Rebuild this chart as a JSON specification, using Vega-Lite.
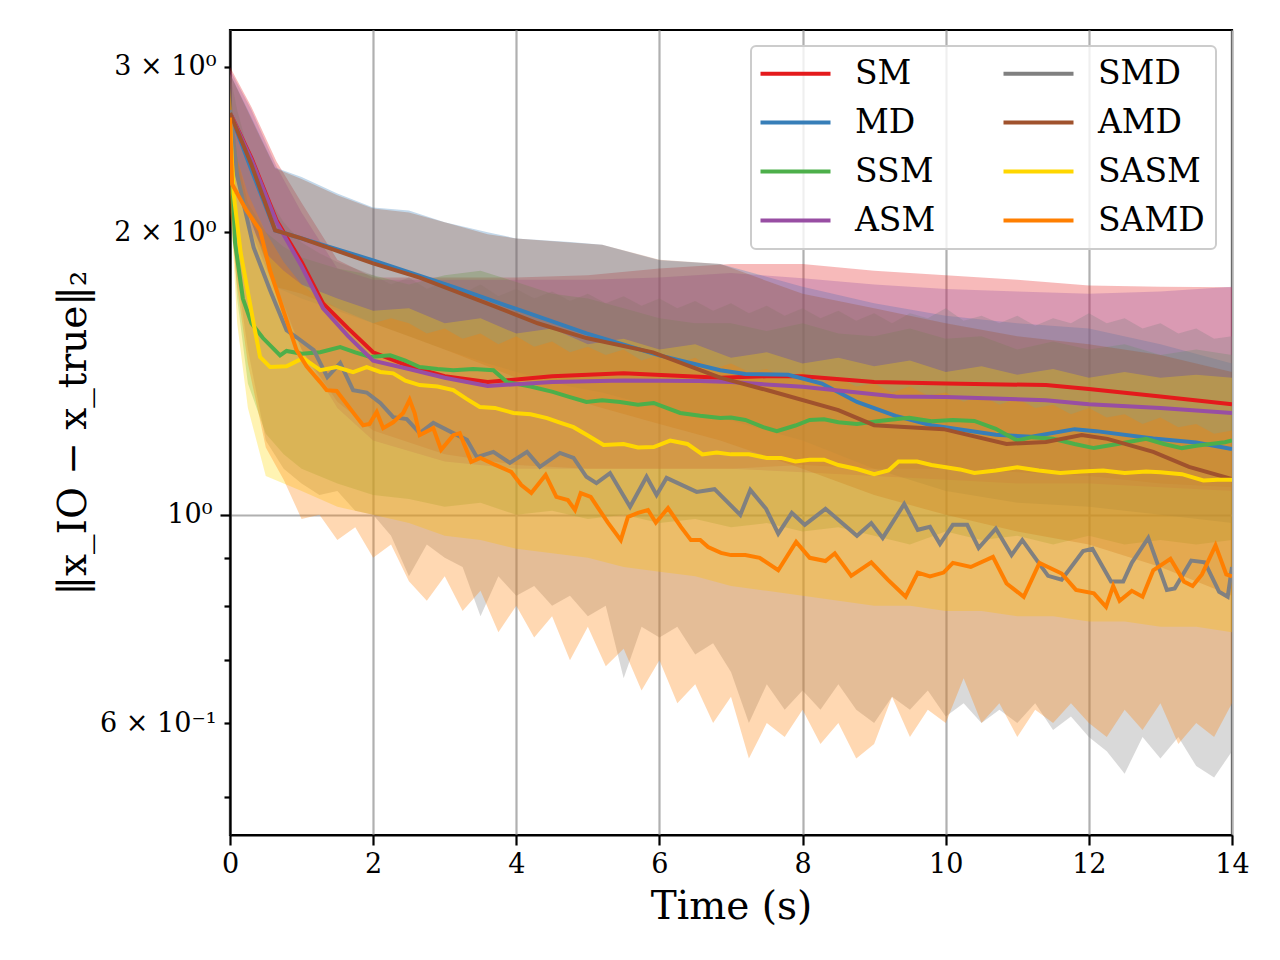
{
  "$schema": "https://vega.github.io/schema/vega-lite/v6.json",
  "autosize": {"type": "none"},
  "padding": {"left": 230, "top": 30, "right": 48, "bottom": 125},
  "width": 1002,
  "height": 805,
  "background": "white",
  "datasets": {
    "bands": [
      {"m":"SM","t":0,"lo":2.4,"hi":3.0},{"m":"SM","t":0.3,"lo":2.05,"hi":2.72},{"m":"SM","t":0.65,"lo":1.75,"hi":2.38},{"m":"SM","t":1,"lo":1.5,"hi":2.15},{"m":"SM","t":1.5,"lo":1.32,"hi":1.87},{"m":"SM","t":2,"lo":1.23,"hi":1.79},{"m":"SM","t":3,"lo":1.16,"hi":1.79},{"m":"SM","t":4,"lo":1.13,"hi":1.79},{"m":"SM","t":5,"lo":1.12,"hi":1.8},{"m":"SM","t":6,"lo":1.12,"hi":1.83},{"m":"SM","t":7,"lo":1.12,"hi":1.85},{"m":"SM","t":8,"lo":1.13,"hi":1.85},{"m":"SM","t":9,"lo":1.12,"hi":1.82},{"m":"SM","t":10,"lo":1.12,"hi":1.8},{"m":"SM","t":11,"lo":1.11,"hi":1.78},{"m":"SM","t":12,"lo":1.1,"hi":1.755},{"m":"SM","t":13,"lo":1.08,"hi":1.75},{"m":"SM","t":14,"lo":1.07,"hi":1.748},

      {"m":"MD","t":0,"lo":2.4,"hi":2.95},{"m":"MD","t":0.3,"lo":2.05,"hi":2.65},{"m":"MD","t":0.63,"lo":1.75,"hi":2.345},{"m":"MD","t":1,"lo":1.7,"hi":2.29},{"m":"MD","t":1.5,"lo":1.65,"hi":2.2},{"m":"MD","t":2,"lo":1.6,"hi":2.125},{"m":"MD","t":2.5,"lo":1.55,"hi":2.11},{"m":"MD","t":3,"lo":1.5,"hi":2.05},{"m":"MD","t":3.6,"lo":1.45,"hi":2.0},{"m":"MD","t":4,"lo":1.42,"hi":1.97},{"m":"MD","t":4.75,"lo":1.37,"hi":1.953},{"m":"MD","t":5.2,"lo":1.35,"hi":1.94},{"m":"MD","t":6,"lo":1.3,"hi":1.867},{"m":"MD","t":6.85,"lo":1.27,"hi":1.85},{"m":"MD","t":8,"lo":1.2,"hi":1.75},{"m":"MD","t":9,"lo":1.12,"hi":1.68},{"m":"MD","t":10,"lo":1.06,"hi":1.63},{"m":"MD","t":11,"lo":1.03,"hi":1.6},{"m":"MD","t":12,"lo":1.02,"hi":1.58},{"m":"MD","t":13,"lo":1.0,"hi":1.52},{"m":"MD","t":14,"lo":0.98,"hi":1.45},

      {"m":"SSM","t":0,"lo":2.3,"hi":2.9},{"m":"SSM","t":0.1,"lo":1.7,"hi":2.4},{"m":"SSM","t":0.25,"lo":1.38,"hi":2.15},{"m":"SSM","t":0.5,"lo":1.22,"hi":2.0},{"m":"SSM","t":0.75,"lo":1.16,"hi":1.93},{"m":"SSM","t":1,"lo":1.12,"hi":1.88},{"m":"SSM","t":1.5,"lo":1.08,"hi":1.83},{"m":"SSM","t":2,"lo":1.05,"hi":1.8},{"m":"SSM","t":2.5,"lo":1.04,"hi":1.76},{"m":"SSM","t":3,"lo":1.02,"hi":1.8},{"m":"SSM","t":3.5,"lo":1.03,"hi":1.82},{"m":"SSM","t":4,"lo":1.0,"hi":1.77},{"m":"SSM","t":4.5,"lo":1.01,"hi":1.72},{"m":"SSM","t":5,"lo":0.99,"hi":1.7},{"m":"SSM","t":5.5,"lo":1.0,"hi":1.66},{"m":"SSM","t":6,"lo":0.98,"hi":1.62},{"m":"SSM","t":6.5,"lo":0.99,"hi":1.6},{"m":"SSM","t":7,"lo":0.97,"hi":1.6},{"m":"SSM","t":7.5,"lo":0.98,"hi":1.57},{"m":"SSM","t":8,"lo":0.96,"hi":1.6},{"m":"SSM","t":8.5,"lo":0.97,"hi":1.56},{"m":"SSM","t":9,"lo":0.95,"hi":1.55},{"m":"SSM","t":9.5,"lo":0.93,"hi":1.58},{"m":"SSM","t":10,"lo":0.96,"hi":1.54},{"m":"SSM","t":10.5,"lo":0.94,"hi":1.55},{"m":"SSM","t":11,"lo":0.95,"hi":1.5},{"m":"SSM","t":11.5,"lo":0.93,"hi":1.53},{"m":"SSM","t":12,"lo":0.95,"hi":1.5},{"m":"SSM","t":12.5,"lo":0.93,"hi":1.52},{"m":"SSM","t":13,"lo":0.94,"hi":1.48},{"m":"SSM","t":13.5,"lo":0.93,"hi":1.5},{"m":"SSM","t":14,"lo":0.94,"hi":1.48},

      {"m":"ASM","t":0,"lo":2.4,"hi":2.98},{"m":"ASM","t":0.3,"lo":2.0,"hi":2.7},{"m":"ASM","t":0.65,"lo":1.72,"hi":2.35},{"m":"ASM","t":1,"lo":1.5,"hi":2.1},{"m":"ASM","t":1.5,"lo":1.3,"hi":1.83},{"m":"ASM","t":2,"lo":1.2,"hi":1.78},{"m":"ASM","t":3,"lo":1.14,"hi":1.78},{"m":"ASM","t":4,"lo":1.12,"hi":1.78},{"m":"ASM","t":5,"lo":1.12,"hi":1.78},{"m":"ASM","t":6,"lo":1.12,"hi":1.79},{"m":"ASM","t":7,"lo":1.12,"hi":1.81},{"m":"ASM","t":8,"lo":1.11,"hi":1.787},{"m":"ASM","t":9,"lo":1.1,"hi":1.76},{"m":"ASM","t":10,"lo":1.09,"hi":1.74},{"m":"ASM","t":11,"lo":1.08,"hi":1.73},{"m":"ASM","t":12,"lo":1.08,"hi":1.72},{"m":"ASM","t":13,"lo":1.07,"hi":1.73},{"m":"ASM","t":14,"lo":1.06,"hi":1.75},

      {"m":"SMD","t":0,"lo":2.2,"hi":2.95},{"m":"SMD","t":0.1,"lo":1.8,"hi":2.7},{"m":"SMD","t":0.25,"lo":1.5,"hi":2.45},{"m":"SMD","t":0.5,"lo":1.2,"hi":2.2},{"m":"SMD","t":0.75,"lo":1.12,"hi":2.05},{"m":"SMD","t":1,"lo":1.08,"hi":1.95},{"m":"SMD","t":1.25,"lo":1.05,"hi":1.9},{"m":"SMD","t":1.5,"lo":1.06,"hi":1.86},{"m":"SMD","t":1.75,"lo":1.01,"hi":1.83},{"m":"SMD","t":2,"lo":1.0,"hi":1.8},{"m":"SMD","t":2.25,"lo":0.95,"hi":1.76},{"m":"SMD","t":2.5,"lo":0.86,"hi":1.79},{"m":"SMD","t":2.75,"lo":0.93,"hi":1.74},{"m":"SMD","t":3,"lo":0.9,"hi":1.77},{"m":"SMD","t":3.25,"lo":0.88,"hi":1.72},{"m":"SMD","t":3.5,"lo":0.78,"hi":1.76},{"m":"SMD","t":3.75,"lo":0.86,"hi":1.71},{"m":"SMD","t":4,"lo":0.82,"hi":1.74},{"m":"SMD","t":4.25,"lo":0.84,"hi":1.7},{"m":"SMD","t":4.5,"lo":0.8,"hi":1.73},{"m":"SMD","t":4.75,"lo":0.82,"hi":1.69},{"m":"SMD","t":5,"lo":0.78,"hi":1.72},{"m":"SMD","t":5.25,"lo":0.8,"hi":1.68},{"m":"SMD","t":5.5,"lo":0.67,"hi":1.71},{"m":"SMD","t":5.75,"lo":0.76,"hi":1.67},{"m":"SMD","t":6,"lo":0.74,"hi":1.7},{"m":"SMD","t":6.25,"lo":0.76,"hi":1.66},{"m":"SMD","t":6.5,"lo":0.71,"hi":1.69},{"m":"SMD","t":6.75,"lo":0.73,"hi":1.65},{"m":"SMD","t":7,"lo":0.68,"hi":1.68},{"m":"SMD","t":7.25,"lo":0.6,"hi":1.64},{"m":"SMD","t":7.5,"lo":0.66,"hi":1.67},{"m":"SMD","t":7.75,"lo":0.62,"hi":1.63},{"m":"SMD","t":8,"lo":0.65,"hi":1.66},{"m":"SMD","t":8.25,"lo":0.62,"hi":1.62},{"m":"SMD","t":8.5,"lo":0.66,"hi":1.65},{"m":"SMD","t":8.75,"lo":0.62,"hi":1.61},{"m":"SMD","t":9,"lo":0.6,"hi":1.64},{"m":"SMD","t":9.25,"lo":0.64,"hi":1.6},{"m":"SMD","t":9.5,"lo":0.62,"hi":1.64},{"m":"SMD","t":9.75,"lo":0.65,"hi":1.62},{"m":"SMD","t":10,"lo":0.61,"hi":1.66},{"m":"SMD","t":10.25,"lo":0.63,"hi":1.61},{"m":"SMD","t":10.5,"lo":0.6,"hi":1.63},{"m":"SMD","t":10.75,"lo":0.62,"hi":1.6},{"m":"SMD","t":11,"lo":0.6,"hi":1.63},{"m":"SMD","t":11.25,"lo":0.63,"hi":1.59},{"m":"SMD","t":11.5,"lo":0.59,"hi":1.62},{"m":"SMD","t":11.75,"lo":0.61,"hi":1.6},{"m":"SMD","t":12,"lo":0.58,"hi":1.64},{"m":"SMD","t":12.25,"lo":0.56,"hi":1.6},{"m":"SMD","t":12.5,"lo":0.53,"hi":1.62},{"m":"SMD","t":12.75,"lo":0.58,"hi":1.58},{"m":"SMD","t":13,"lo":0.55,"hi":1.6},{"m":"SMD","t":13.25,"lo":0.58,"hi":1.56},{"m":"SMD","t":13.5,"lo":0.54,"hi":1.58},{"m":"SMD","t":13.75,"lo":0.525,"hi":1.54},{"m":"SMD","t":14,"lo":0.56,"hi":1.55},

      {"m":"AMD","t":0,"lo":2.4,"hi":2.95},{"m":"AMD","t":0.3,"lo":2.05,"hi":2.64},{"m":"AMD","t":0.63,"lo":1.75,"hi":2.34},{"m":"AMD","t":1,"lo":1.72,"hi":2.28},{"m":"AMD","t":1.5,"lo":1.66,"hi":2.19},{"m":"AMD","t":2,"lo":1.6,"hi":2.12},{"m":"AMD","t":2.5,"lo":1.55,"hi":2.1},{"m":"AMD","t":3,"lo":1.5,"hi":2.05},{"m":"AMD","t":3.6,"lo":1.44,"hi":1.99},{"m":"AMD","t":4,"lo":1.4,"hi":1.97},{"m":"AMD","t":4.75,"lo":1.33,"hi":1.95},{"m":"AMD","t":5.2,"lo":1.3,"hi":1.94},{"m":"AMD","t":6,"lo":1.25,"hi":1.87},{"m":"AMD","t":6.85,"lo":1.2,"hi":1.85},{"m":"AMD","t":8,"lo":1.12,"hi":1.72},{"m":"AMD","t":9,"lo":1.05,"hi":1.66},{"m":"AMD","t":10,"lo":1.0,"hi":1.6},{"m":"AMD","t":11,"lo":0.96,"hi":1.55},{"m":"AMD","t":12,"lo":0.93,"hi":1.52},{"m":"AMD","t":13,"lo":0.88,"hi":1.48},{"m":"AMD","t":14,"lo":0.82,"hi":1.42},

      {"m":"SASM","t":0,"lo":2.2,"hi":2.85},{"m":"SASM","t":0.1,"lo":1.6,"hi":2.3},{"m":"SASM","t":0.25,"lo":1.3,"hi":2.05},{"m":"SASM","t":0.5,"lo":1.1,"hi":1.9},{"m":"SASM","t":0.75,"lo":1.08,"hi":1.82},{"m":"SASM","t":1,"lo":1.06,"hi":1.76},{"m":"SASM","t":1.5,"lo":1.02,"hi":1.7},{"m":"SASM","t":2,"lo":1.0,"hi":1.65},{"m":"SASM","t":2.5,"lo":0.98,"hi":1.66},{"m":"SASM","t":3,"lo":0.95,"hi":1.6},{"m":"SASM","t":3.5,"lo":0.94,"hi":1.62},{"m":"SASM","t":4,"lo":0.92,"hi":1.56},{"m":"SASM","t":4.5,"lo":0.91,"hi":1.58},{"m":"SASM","t":5,"lo":0.9,"hi":1.52},{"m":"SASM","t":5.5,"lo":0.88,"hi":1.54},{"m":"SASM","t":6,"lo":0.87,"hi":1.5},{"m":"SASM","t":6.5,"lo":0.86,"hi":1.52},{"m":"SASM","t":7,"lo":0.84,"hi":1.47},{"m":"SASM","t":7.5,"lo":0.83,"hi":1.49},{"m":"SASM","t":8,"lo":0.82,"hi":1.45},{"m":"SASM","t":8.5,"lo":0.81,"hi":1.47},{"m":"SASM","t":9,"lo":0.8,"hi":1.44},{"m":"SASM","t":9.5,"lo":0.8,"hi":1.46},{"m":"SASM","t":10,"lo":0.79,"hi":1.42},{"m":"SASM","t":10.5,"lo":0.79,"hi":1.44},{"m":"SASM","t":11,"lo":0.78,"hi":1.41},{"m":"SASM","t":11.5,"lo":0.78,"hi":1.43},{"m":"SASM","t":12,"lo":0.77,"hi":1.4},{"m":"SASM","t":12.5,"lo":0.77,"hi":1.42},{"m":"SASM","t":13,"lo":0.76,"hi":1.4},{"m":"SASM","t":13.5,"lo":0.76,"hi":1.41},{"m":"SASM","t":14,"lo":0.75,"hi":1.4},

      {"m":"SAMD","t":0,"lo":2.1,"hi":2.8},{"m":"SAMD","t":0.1,"lo":1.75,"hi":2.4},{"m":"SAMD","t":0.25,"lo":1.45,"hi":2.2},{"m":"SAMD","t":0.5,"lo":1.18,"hi":2.0},{"m":"SAMD","t":0.75,"lo":1.09,"hi":1.86},{"m":"SAMD","t":1,"lo":0.99,"hi":1.76},{"m":"SAMD","t":1.25,"lo":1.0,"hi":1.7},{"m":"SAMD","t":1.5,"lo":0.94,"hi":1.66},{"m":"SAMD","t":1.75,"lo":0.97,"hi":1.63},{"m":"SAMD","t":2,"lo":0.9,"hi":1.6},{"m":"SAMD","t":2.25,"lo":0.93,"hi":1.62},{"m":"SAMD","t":2.5,"lo":0.85,"hi":1.6},{"m":"SAMD","t":2.75,"lo":0.81,"hi":1.56},{"m":"SAMD","t":3,"lo":0.86,"hi":1.58},{"m":"SAMD","t":3.25,"lo":0.79,"hi":1.54},{"m":"SAMD","t":3.5,"lo":0.83,"hi":1.56},{"m":"SAMD","t":3.75,"lo":0.75,"hi":1.52},{"m":"SAMD","t":4,"lo":0.8,"hi":1.55},{"m":"SAMD","t":4.25,"lo":0.74,"hi":1.51},{"m":"SAMD","t":4.5,"lo":0.78,"hi":1.53},{"m":"SAMD","t":4.75,"lo":0.7,"hi":1.49},{"m":"SAMD","t":5,"lo":0.76,"hi":1.51},{"m":"SAMD","t":5.25,"lo":0.69,"hi":1.48},{"m":"SAMD","t":5.5,"lo":0.72,"hi":1.5},{"m":"SAMD","t":5.75,"lo":0.65,"hi":1.46},{"m":"SAMD","t":6,"lo":0.7,"hi":1.48},{"m":"SAMD","t":6.25,"lo":0.63,"hi":1.45},{"m":"SAMD","t":6.5,"lo":0.66,"hi":1.47},{"m":"SAMD","t":6.75,"lo":0.6,"hi":1.43},{"m":"SAMD","t":7,"lo":0.64,"hi":1.45},{"m":"SAMD","t":7.25,"lo":0.55,"hi":1.42},{"m":"SAMD","t":7.5,"lo":0.6,"hi":1.43},{"m":"SAMD","t":7.75,"lo":0.58,"hi":1.4},{"m":"SAMD","t":8,"lo":0.62,"hi":1.42},{"m":"SAMD","t":8.25,"lo":0.57,"hi":1.38},{"m":"SAMD","t":8.5,"lo":0.6,"hi":1.4},{"m":"SAMD","t":8.75,"lo":0.55,"hi":1.37},{"m":"SAMD","t":9,"lo":0.57,"hi":1.38},{"m":"SAMD","t":9.25,"lo":0.64,"hi":1.35},{"m":"SAMD","t":9.5,"lo":0.58,"hi":1.37},{"m":"SAMD","t":9.75,"lo":0.62,"hi":1.34},{"m":"SAMD","t":10,"lo":0.6,"hi":1.35},{"m":"SAMD","t":10.25,"lo":0.67,"hi":1.32},{"m":"SAMD","t":10.5,"lo":0.6,"hi":1.34},{"m":"SAMD","t":10.75,"lo":0.63,"hi":1.31},{"m":"SAMD","t":11,"lo":0.58,"hi":1.33},{"m":"SAMD","t":11.25,"lo":0.62,"hi":1.3},{"m":"SAMD","t":11.5,"lo":0.6,"hi":1.31},{"m":"SAMD","t":11.75,"lo":0.63,"hi":1.28},{"m":"SAMD","t":12,"lo":0.6,"hi":1.3},{"m":"SAMD","t":12.25,"lo":0.58,"hi":1.27},{"m":"SAMD","t":12.5,"lo":0.62,"hi":1.28},{"m":"SAMD","t":12.75,"lo":0.59,"hi":1.25},{"m":"SAMD","t":13,"lo":0.63,"hi":1.27},{"m":"SAMD","t":13.25,"lo":0.57,"hi":1.24},{"m":"SAMD","t":13.5,"lo":0.6,"hi":1.25},{"m":"SAMD","t":13.75,"lo":0.58,"hi":1.22},{"m":"SAMD","t":14,"lo":0.63,"hi":1.23}
    ],
    "lines": [
      {"s":"SM","t":0,"v":2.68},{"s":"SM","t":0.3,"v":2.4},{"s":"SM","t":0.65,"v":2.06},{"s":"SM","t":1,"v":1.86},{"s":"SM","t":1.3,"v":1.68},{"s":"SM","t":1.65,"v":1.58},{"s":"SM","t":2,"v":1.49},{"s":"SM","t":2.5,"v":1.44},{"s":"SM","t":3,"v":1.405},{"s":"SM","t":3.6,"v":1.385},{"s":"SM","t":4.5,"v":1.405},{"s":"SM","t":5.5,"v":1.415},{"s":"SM","t":6.85,"v":1.4},{"s":"SM","t":7.5,"v":1.405},{"s":"SM","t":8,"v":1.405},{"s":"SM","t":9,"v":1.385},{"s":"SM","t":10,"v":1.38},{"s":"SM","t":11.4,"v":1.375},{"s":"SM","t":12,"v":1.362},{"s":"SM","t":13,"v":1.337},{"s":"SM","t":14,"v":1.312},

      {"s":"MD","t":0,"v":2.68},{"s":"MD","t":0.3,"v":2.33},{"s":"MD","t":0.63,"v":2.01},{"s":"MD","t":1,"v":1.97},{"s":"MD","t":2,"v":1.867},{"s":"MD","t":3.12,"v":1.749},{"s":"MD","t":4.05,"v":1.652},{"s":"MD","t":4.98,"v":1.561},{"s":"MD","t":6,"v":1.479},{"s":"MD","t":6.85,"v":1.426},{"s":"MD","t":7.2,"v":1.413},{"s":"MD","t":7.8,"v":1.41},{"s":"MD","t":8.27,"v":1.38},{"s":"MD","t":8.76,"v":1.319},{"s":"MD","t":9.3,"v":1.275},{"s":"MD","t":9.8,"v":1.246},{"s":"MD","t":10.7,"v":1.217},{"s":"MD","t":11.2,"v":1.211},{"s":"MD","t":11.8,"v":1.234},{"s":"MD","t":12.1,"v":1.228},{"s":"MD","t":12.9,"v":1.206},{"s":"MD","t":13.5,"v":1.194},{"s":"MD","t":14,"v":1.175},

      {"s":"SSM","t":0,"v":2.65},{"s":"SSM","t":0.07,"v":1.95},{"s":"SSM","t":0.18,"v":1.7},{"s":"SSM","t":0.3,"v":1.6},{"s":"SSM","t":0.46,"v":1.543},{"s":"SSM","t":0.7,"v":1.479},{"s":"SSM","t":0.79,"v":1.495},{"s":"SSM","t":1,"v":1.485},{"s":"SSM","t":1.26,"v":1.49},{"s":"SSM","t":1.54,"v":1.509},{"s":"SSM","t":1.75,"v":1.49},{"s":"SSM","t":1.96,"v":1.473},{"s":"SSM","t":2.24,"v":1.479},{"s":"SSM","t":2.45,"v":1.46},{"s":"SSM","t":2.65,"v":1.437},{"s":"SSM","t":2.9,"v":1.43},{"s":"SSM","t":3.12,"v":1.426},{"s":"SSM","t":3.4,"v":1.43},{"s":"SSM","t":3.68,"v":1.426},{"s":"SSM","t":3.87,"v":1.385},{"s":"SSM","t":4.2,"v":1.37},{"s":"SSM","t":4.51,"v":1.352},{"s":"SSM","t":4.75,"v":1.335},{"s":"SSM","t":4.98,"v":1.319},{"s":"SSM","t":5.2,"v":1.325},{"s":"SSM","t":5.45,"v":1.319},{"s":"SSM","t":5.7,"v":1.31},{"s":"SSM","t":5.92,"v":1.316},{"s":"SSM","t":6.1,"v":1.3},{"s":"SSM","t":6.29,"v":1.284},{"s":"SSM","t":6.57,"v":1.275},{"s":"SSM","t":6.85,"v":1.268},{"s":"SSM","t":7,"v":1.27},{"s":"SSM","t":7.2,"v":1.262},{"s":"SSM","t":7.45,"v":1.24},{"s":"SSM","t":7.64,"v":1.228},{"s":"SSM","t":7.9,"v":1.245},{"s":"SSM","t":8.1,"v":1.262},{"s":"SSM","t":8.3,"v":1.264},{"s":"SSM","t":8.5,"v":1.255},{"s":"SSM","t":8.76,"v":1.25},{"s":"SSM","t":9.1,"v":1.26},{"s":"SSM","t":9.49,"v":1.269},{"s":"SSM","t":9.8,"v":1.258},{"s":"SSM","t":10.1,"v":1.262},{"s":"SSM","t":10.4,"v":1.259},{"s":"SSM","t":10.7,"v":1.235},{"s":"SSM","t":11,"v":1.2},{"s":"SSM","t":11.2,"v":1.21},{"s":"SSM","t":11.5,"v":1.205},{"s":"SSM","t":11.8,"v":1.19},{"s":"SSM","t":12.07,"v":1.178},{"s":"SSM","t":12.4,"v":1.19},{"s":"SSM","t":12.8,"v":1.205},{"s":"SSM","t":13.05,"v":1.19},{"s":"SSM","t":13.3,"v":1.178},{"s":"SSM","t":13.5,"v":1.185},{"s":"SSM","t":13.7,"v":1.19},{"s":"SSM","t":13.9,"v":1.195},{"s":"SSM","t":14,"v":1.2},

      {"s":"ASM","t":0,"v":2.68},{"s":"ASM","t":0.3,"v":2.39},{"s":"ASM","t":0.65,"v":2.05},{"s":"ASM","t":1,"v":1.84},{"s":"ASM","t":1.3,"v":1.66},{"s":"ASM","t":1.65,"v":1.55},{"s":"ASM","t":2,"v":1.46},{"s":"ASM","t":2.5,"v":1.43},{"s":"ASM","t":3,"v":1.4},{"s":"ASM","t":3.6,"v":1.372},{"s":"ASM","t":4.5,"v":1.385},{"s":"ASM","t":5.5,"v":1.39},{"s":"ASM","t":6.57,"v":1.389},{"s":"ASM","t":7,"v":1.385},{"s":"ASM","t":8,"v":1.369},{"s":"ASM","t":9.3,"v":1.337},{"s":"ASM","t":10,"v":1.335},{"s":"ASM","t":11.4,"v":1.325},{"s":"ASM","t":12,"v":1.312},{"s":"ASM","t":13,"v":1.3},{"s":"ASM","t":14,"v":1.284},

      {"s":"SMD","t":0,"v":2.7},{"s":"SMD","t":0.1,"v":2.3},{"s":"SMD","t":0.33,"v":1.927},{"s":"SMD","t":0.56,"v":1.735},{"s":"SMD","t":0.79,"v":1.573},{"s":"SMD","t":0.93,"v":1.546},{"s":"SMD","t":1.17,"v":1.498},{"s":"SMD","t":1.36,"v":1.402},{"s":"SMD","t":1.54,"v":1.451},{"s":"SMD","t":1.72,"v":1.358},{"s":"SMD","t":1.91,"v":1.35},{"s":"SMD","t":2.1,"v":1.316},{"s":"SMD","t":2.28,"v":1.271},{"s":"SMD","t":2.47,"v":1.265},{"s":"SMD","t":2.65,"v":1.222},{"s":"SMD","t":2.84,"v":1.253},{"s":"SMD","t":3.12,"v":1.222},{"s":"SMD","t":3.31,"v":1.202},{"s":"SMD","t":3.45,"v":1.152},{"s":"SMD","t":3.68,"v":1.167},{"s":"SMD","t":3.91,"v":1.136},{"s":"SMD","t":4.15,"v":1.167},{"s":"SMD","t":4.33,"v":1.125},{"s":"SMD","t":4.61,"v":1.164},{"s":"SMD","t":4.8,"v":1.15},{"s":"SMD","t":4.98,"v":1.098},{"s":"SMD","t":5.12,"v":1.081},{"s":"SMD","t":5.31,"v":1.108},{"s":"SMD","t":5.59,"v":1.02},{"s":"SMD","t":5.82,"v":1.098},{"s":"SMD","t":5.96,"v":1.05},{"s":"SMD","t":6.1,"v":1.095},{"s":"SMD","t":6.52,"v":1.058},{"s":"SMD","t":6.77,"v":1.065},{"s":"SMD","t":7.13,"v":1.0},{"s":"SMD","t":7.27,"v":1.063},{"s":"SMD","t":7.49,"v":1.015},{"s":"SMD","t":7.66,"v":0.955},{"s":"SMD","t":7.85,"v":1.005},{"s":"SMD","t":8.03,"v":0.976},{"s":"SMD","t":8.32,"v":1.015},{"s":"SMD","t":8.76,"v":0.95},{"s":"SMD","t":8.96,"v":0.98},{"s":"SMD","t":9.12,"v":0.945},{"s":"SMD","t":9.42,"v":1.027},{"s":"SMD","t":9.61,"v":0.964},{"s":"SMD","t":9.78,"v":0.971},{"s":"SMD","t":9.92,"v":0.931},{"s":"SMD","t":10.1,"v":0.976},{"s":"SMD","t":10.3,"v":0.976},{"s":"SMD","t":10.46,"v":0.922},{"s":"SMD","t":10.7,"v":0.967},{"s":"SMD","t":10.92,"v":0.906},{"s":"SMD","t":11.07,"v":0.94},{"s":"SMD","t":11.43,"v":0.861},{"s":"SMD","t":11.62,"v":0.853},{"s":"SMD","t":11.92,"v":0.915},{"s":"SMD","t":12.05,"v":0.92},{"s":"SMD","t":12.31,"v":0.849},{"s":"SMD","t":12.48,"v":0.849},{"s":"SMD","t":12.6,"v":0.889},{"s":"SMD","t":12.83,"v":0.945},{"s":"SMD","t":13.09,"v":0.832},{"s":"SMD","t":13.2,"v":0.835},{"s":"SMD","t":13.43,"v":0.894},{"s":"SMD","t":13.62,"v":0.89},{"s":"SMD","t":13.82,"v":0.828},{"s":"SMD","t":13.94,"v":0.818},{"s":"SMD","t":14,"v":0.88},

      {"s":"AMD","t":0,"v":2.68},{"s":"AMD","t":0.3,"v":2.36},{"s":"AMD","t":0.63,"v":2.01},{"s":"AMD","t":1,"v":1.97},{"s":"AMD","t":2,"v":1.853},{"s":"AMD","t":2.65,"v":1.79},{"s":"AMD","t":3.59,"v":1.68},{"s":"AMD","t":4.3,"v":1.6},{"s":"AMD","t":4.98,"v":1.543},{"s":"AMD","t":5.91,"v":1.49},{"s":"AMD","t":6.57,"v":1.426},{"s":"AMD","t":6.85,"v":1.4},{"s":"AMD","t":7.55,"v":1.355},{"s":"AMD","t":8.5,"v":1.293},{"s":"AMD","t":9,"v":1.246},{"s":"AMD","t":9.97,"v":1.234},{"s":"AMD","t":10.85,"v":1.19},{"s":"AMD","t":11.4,"v":1.196},{"s":"AMD","t":11.9,"v":1.216},{"s":"AMD","t":12.26,"v":1.205},{"s":"AMD","t":12.9,"v":1.167},{"s":"AMD","t":13.4,"v":1.125},{"s":"AMD","t":14,"v":1.092},

      {"s":"SASM","t":0,"v":2.62},{"s":"SASM","t":0.05,"v":2.2},{"s":"SASM","t":0.15,"v":1.9},{"s":"SASM","t":0.33,"v":1.6},{"s":"SASM","t":0.42,"v":1.473},{"s":"SASM","t":0.56,"v":1.437},{"s":"SASM","t":0.79,"v":1.44},{"s":"SASM","t":1.02,"v":1.469},{"s":"SASM","t":1.26,"v":1.426},{"s":"SASM","t":1.49,"v":1.437},{"s":"SASM","t":1.72,"v":1.419},{"s":"SASM","t":1.91,"v":1.437},{"s":"SASM","t":2.1,"v":1.42},{"s":"SASM","t":2.28,"v":1.415},{"s":"SASM","t":2.45,"v":1.39},{"s":"SASM","t":2.65,"v":1.375},{"s":"SASM","t":2.9,"v":1.37},{"s":"SASM","t":3.12,"v":1.358},{"s":"SASM","t":3.3,"v":1.33},{"s":"SASM","t":3.49,"v":1.303},{"s":"SASM","t":3.7,"v":1.3},{"s":"SASM","t":3.96,"v":1.284},{"s":"SASM","t":4.2,"v":1.28},{"s":"SASM","t":4.43,"v":1.268},{"s":"SASM","t":4.6,"v":1.255},{"s":"SASM","t":4.8,"v":1.24},{"s":"SASM","t":5,"v":1.215},{"s":"SASM","t":5.22,"v":1.187},{"s":"SASM","t":5.5,"v":1.19},{"s":"SASM","t":5.7,"v":1.18},{"s":"SASM","t":5.92,"v":1.181},{"s":"SASM","t":6.15,"v":1.2},{"s":"SASM","t":6.39,"v":1.19},{"s":"SASM","t":6.6,"v":1.16},{"s":"SASM","t":6.8,"v":1.165},{"s":"SASM","t":7,"v":1.16},{"s":"SASM","t":7.25,"v":1.16},{"s":"SASM","t":7.5,"v":1.15},{"s":"SASM","t":7.7,"v":1.15},{"s":"SASM","t":7.9,"v":1.14},{"s":"SASM","t":8.1,"v":1.145},{"s":"SASM","t":8.3,"v":1.145},{"s":"SASM","t":8.5,"v":1.13},{"s":"SASM","t":8.76,"v":1.119},{"s":"SASM","t":9,"v":1.105},{"s":"SASM","t":9.2,"v":1.115},{"s":"SASM","t":9.34,"v":1.14},{"s":"SASM","t":9.6,"v":1.14},{"s":"SASM","t":9.8,"v":1.13},{"s":"SASM","t":10,"v":1.124},{"s":"SASM","t":10.2,"v":1.118},{"s":"SASM","t":10.4,"v":1.108},{"s":"SASM","t":10.7,"v":1.115},{"s":"SASM","t":11,"v":1.124},{"s":"SASM","t":11.3,"v":1.115},{"s":"SASM","t":11.6,"v":1.108},{"s":"SASM","t":11.9,"v":1.112},{"s":"SASM","t":12.2,"v":1.115},{"s":"SASM","t":12.5,"v":1.108},{"s":"SASM","t":12.8,"v":1.112},{"s":"SASM","t":13,"v":1.11},{"s":"SASM","t":13.3,"v":1.105},{"s":"SASM","t":13.6,"v":1.088},{"s":"SASM","t":13.8,"v":1.09},{"s":"SASM","t":14,"v":1.09},

      {"s":"SAMD","t":0,"v":2.65},{"s":"SAMD","t":0.03,"v":2.25},{"s":"SAMD","t":0.23,"v":2.11},{"s":"SAMD","t":0.42,"v":2.01},{"s":"SAMD","t":0.56,"v":1.82},{"s":"SAMD","t":0.79,"v":1.612},{"s":"SAMD","t":0.93,"v":1.498},{"s":"SAMD","t":1.07,"v":1.44},{"s":"SAMD","t":1.26,"v":1.385},{"s":"SAMD","t":1.35,"v":1.358},{"s":"SAMD","t":1.49,"v":1.355},{"s":"SAMD","t":1.77,"v":1.271},{"s":"SAMD","t":1.86,"v":1.246},{"s":"SAMD","t":1.95,"v":1.25},{"s":"SAMD","t":2.05,"v":1.287},{"s":"SAMD","t":2.14,"v":1.237},{"s":"SAMD","t":2.28,"v":1.255},{"s":"SAMD","t":2.42,"v":1.284},{"s":"SAMD","t":2.51,"v":1.326},{"s":"SAMD","t":2.58,"v":1.284},{"s":"SAMD","t":2.65,"v":1.216},{"s":"SAMD","t":2.84,"v":1.237},{"s":"SAMD","t":2.95,"v":1.173},{"s":"SAMD","t":3.12,"v":1.216},{"s":"SAMD","t":3.21,"v":1.222},{"s":"SAMD","t":3.37,"v":1.139},{"s":"SAMD","t":3.5,"v":1.15},{"s":"SAMD","t":3.7,"v":1.131},{"s":"SAMD","t":3.93,"v":1.111},{"s":"SAMD","t":4.07,"v":1.076},{"s":"SAMD","t":4.21,"v":1.055},{"s":"SAMD","t":4.41,"v":1.103},{"s":"SAMD","t":4.56,"v":1.045},{"s":"SAMD","t":4.72,"v":1.037},{"s":"SAMD","t":4.82,"v":1.012},{"s":"SAMD","t":4.9,"v":1.055},{"s":"SAMD","t":5.04,"v":1.045},{"s":"SAMD","t":5.28,"v":0.981},{"s":"SAMD","t":5.46,"v":0.94},{"s":"SAMD","t":5.56,"v":0.995},{"s":"SAMD","t":5.7,"v":1.005},{"s":"SAMD","t":5.84,"v":1.012},{"s":"SAMD","t":5.95,"v":0.981},{"s":"SAMD","t":6.12,"v":1.017},{"s":"SAMD","t":6.3,"v":0.971},{"s":"SAMD","t":6.44,"v":0.94},{"s":"SAMD","t":6.57,"v":0.94},{"s":"SAMD","t":6.68,"v":0.924},{"s":"SAMD","t":6.86,"v":0.911},{"s":"SAMD","t":7,"v":0.906},{"s":"SAMD","t":7.2,"v":0.906},{"s":"SAMD","t":7.4,"v":0.9},{"s":"SAMD","t":7.66,"v":0.873},{"s":"SAMD","t":7.91,"v":0.936},{"s":"SAMD","t":8.1,"v":0.9},{"s":"SAMD","t":8.32,"v":0.893},{"s":"SAMD","t":8.45,"v":0.91},{"s":"SAMD","t":8.68,"v":0.861},{"s":"SAMD","t":8.96,"v":0.89},{"s":"SAMD","t":9.19,"v":0.853},{"s":"SAMD","t":9.44,"v":0.818},{"s":"SAMD","t":9.61,"v":0.868},{"s":"SAMD","t":9.78,"v":0.86},{"s":"SAMD","t":9.97,"v":0.868},{"s":"SAMD","t":10.1,"v":0.889},{"s":"SAMD","t":10.35,"v":0.88},{"s":"SAMD","t":10.66,"v":0.902},{"s":"SAMD","t":10.85,"v":0.845},{"s":"SAMD","t":11.09,"v":0.818},{"s":"SAMD","t":11.31,"v":0.889},{"s":"SAMD","t":11.62,"v":0.866},{"s":"SAMD","t":11.82,"v":0.832},{"s":"SAMD","t":12.07,"v":0.825},{"s":"SAMD","t":12.24,"v":0.798},{"s":"SAMD","t":12.34,"v":0.84},{"s":"SAMD","t":12.43,"v":0.81},{"s":"SAMD","t":12.6,"v":0.83},{"s":"SAMD","t":12.75,"v":0.818},{"s":"SAMD","t":12.9,"v":0.873},{"s":"SAMD","t":13.14,"v":0.898},{"s":"SAMD","t":13.33,"v":0.849},{"s":"SAMD","t":13.45,"v":0.84},{"s":"SAMD","t":13.58,"v":0.864},{"s":"SAMD","t":13.77,"v":0.928},{"s":"SAMD","t":13.92,"v":0.864},{"s":"SAMD","t":14,"v":0.86}
    ]
  },
  "layer": [
    {
      "data": {"name": "bands"},
      "mark": {"type": "area", "opacity": 0.3, "interpolate": "linear"},
      "encoding": {
        "x": {"field": "t", "type": "quantitative"},
        "y": {"field": "lo", "type": "quantitative"},
        "y2": {"field": "hi"},
        "color": {"field": "m", "type": "nominal"}
      }
    },
    {
      "data": {"name": "lines"},
      "mark": {"type": "line", "strokeWidth": 4, "clip": true},
      "encoding": {
        "x": {
          "field": "t",
          "type": "quantitative",
          "title": "Time (s)",
          "scale": {"domain": [0, 14], "nice": false},
          "axis": {"values": [0, 2, 4, 6, 8, 10, 12, 14], "format": "d", "titlePadding": 10}
        },
        "y": {
          "field": "v",
          "type": "quantitative",
          "title": "‖x_IO − x_true‖₂",
          "scale": {"type": "log", "domain": [0.456, 3.285], "nice": false, "zero": false},
          "axis": {
            "values": [0.5, 0.6, 0.7, 0.8, 0.9, 1, 2, 3],
            "labelExpr": "datum.value == 3 ? '3 × 10⁰' : datum.value == 2 ? '2 × 10⁰' : datum.value == 1 ? '10⁰' : datum.value == 0.6 ? '6 × 10⁻¹' : ''",
            "gridOpacity": {"condition": {"test": "datum.value == 1", "value": 1}, "value": 0},
            "tickSize": {"condition": {"test": "datum.value == 1", "value": 10}, "value": 6},
            "labelPadding": 8,
            "titlePadding": 6
          }
        },
        "color": {
          "field": "s",
          "type": "nominal",
          "scale": {
            "domain": ["SM", "MD", "SSM", "ASM", "SMD", "AMD", "SASM", "SAMD"],
            "range": ["#e41a1c", "#377eb8", "#4daf4a", "#984ea3", "#808080", "#a0522d", "#ffd700", "#ff7f00"]
          },
          "legend": {
            "title": null,
            "orient": "top-right",
            "offset": 16,
            "columns": 2,
            "symbolType": "M-2.5,0H2.5",
            "symbolSize": 784,
            "symbolStrokeWidth": 4,
            "symbolOffset": 17,
            "labelFontSize": 33,
            "labelFont": "DejaVu Serif",
            "labelColor": "black",
            "labelOffset": 43,
            "rowPadding": 15,
            "columnPadding": 59,
            "padding": 11,
            "fillColor": "rgba(255,255,255,0.8)",
            "strokeColor": "#cccccc",
            "cornerRadius": 5,
            "encode": {
              "symbols": {"update": {"stroke": {"scale": "color", "field": "value"}, "opacity": {"value": 1}, "strokeOpacity": {"value": 1}}}
            }
          }
        }
      }
    }
  ],
  "config": {
    "font": "DejaVu Serif",
    "view": {"stroke": "black", "strokeWidth": 2.2},
    "axis": {
      "grid": true,
      "gridColor": "#b0b0b0",
      "gridWidth": 2.2,
      "domainColor": "black",
      "domainWidth": 2.2,
      "tickColor": "black",
      "tickWidth": 2.2,
      "tickSize": 10,
      "labelFont": "DejaVu Serif",
      "labelFontSize": 27,
      "labelColor": "black",
      "labelPadding": 6,
      "labelFlush": false,
      "labelOverlap": false,
      "titleFont": "DejaVu Serif",
      "titleFontSize": 39,
      "titleFontWeight": "normal",
      "titleColor": "black",
      "titlePadding": 6,
      "zindex": 1
    },
    "legend": {"strokeWidth": 2}
  }
}
